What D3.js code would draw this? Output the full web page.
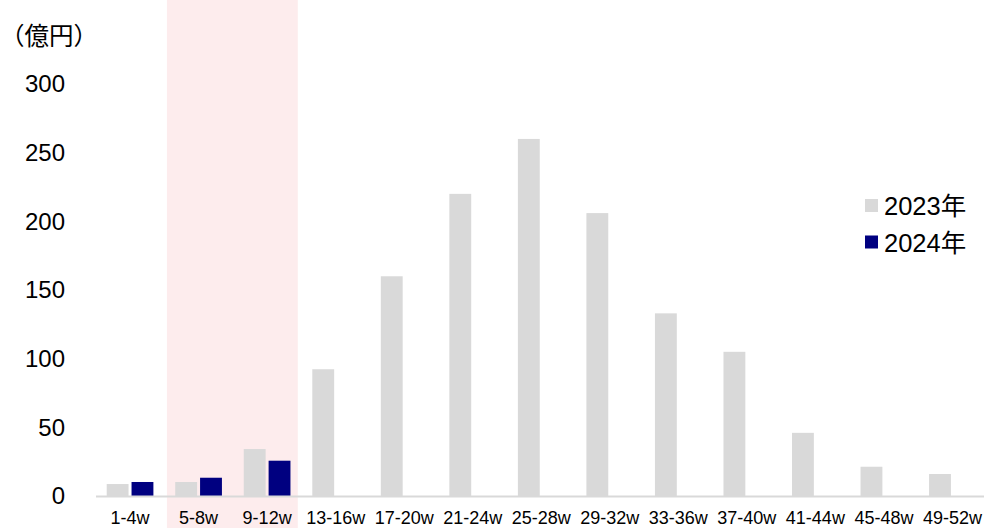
<!DOCTYPE html>
<html>
<head>
<meta charset="utf-8">
<script src="https://cdn.jsdelivr.net/npm/d3@7"></script>
<style>
  html, body { margin: 0; padding: 0; background: #fff; }
  svg { display: block; font-family: "Liberation Sans", Arial, "Noto Sans CJK JP", sans-serif; }
</style>
</head>
<body>
<svg id="chart" width="984" height="528"></svg>
<script>
const categories = ["1-4w","5-8w","9-12w","13-16w","17-20w","21-24w","25-28w","29-32w","33-36w","37-40w","41-44w","45-48w","49-52w"];
const seriesNames = ["2023年","2024年"];
const values2023 = [8.7, 10.2, 34.2, 92.3, 160, 220, 260, 206, 133, 105, 46, 21.3, 16];
const values2024 = [10.2, 13.3, 25.7, null, null, null, null, null, null, null, null, null, null];
const yTicks = [0, 50, 100, 150, 200, 250, 300];
const highlightCats = ["5-8w", "9-12w"];
const colors = ["#d9d9d9", "#000080"];

const svg = d3.select("#chart");
const W = 984, H = 528;

const x = d3.scaleBand().domain(categories).range([95.8, 986.7]).padding(0);
const inner = d3.scaleBand().domain(seriesNames).range([10.9, 57.6]).paddingInner(0.12).paddingOuter(0);
const y = d3.scaleLinear().domain([0, 300]).range([496, 84]);

// highlight band
svg.append("rect")
  .attr("x", x(highlightCats[0]) + 2.6)
  .attr("y", 0)
  .attr("width", x(highlightCats[1]) + x.step() - 3.6 - (x(highlightCats[0]) + 2.6))
  .attr("height", H)
  .attr("fill", "#fdeced");

// bars
const allSeries = [values2023, values2024];
allSeries.forEach((vals, si) => {
  svg.append("g").selectAll("rect")
    .data(categories.map((c, i) => ({c, v: vals[i]})).filter(d => d.v != null))
    .join("rect")
    .attr("x", d => x(d.c) + inner(seriesNames[si]))
    .attr("width", inner.bandwidth())
    .attr("y", d => y(d.v))
    .attr("height", d => y(0) - y(d.v))
    .attr("fill", colors[si]);
});

// baseline axis
svg.append("line")
  .attr("x1", 96).attr("x2", 984)
  .attr("y1", y(0) + 0.5).attr("y2", y(0) + 0.5)
  .attr("stroke", "#d9d9d9").attr("stroke-width", 2);

// y tick labels
svg.append("g").selectAll("text")
  .data(yTicks)
  .join("text")
  .attr("x", 65)
  .attr("y", d => y(d))
  .attr("dy", "0.35em")
  .attr("text-anchor", "end")
  .attr("font-size", 24)
  .attr("fill", "#000")
  .text(d => d);

// x labels
svg.append("g").selectAll("text")
  .data(categories)
  .join("text")
  .attr("x", d => x(d) + x.bandwidth() / 2)
  .attr("y", 524)
  .attr("text-anchor", "middle")
  .attr("font-size", 18)
  .attr("fill", "#000")
  .text(d => d);

// unit label
svg.append("text")
  .attr("x", 0)
  .attr("y", 45)
  .attr("font-size", 24.5)
  .attr("font-family", "'Noto Sans CJK JP', sans-serif")
  .attr("fill", "#000")
  .text("（億円）");

// legend
const legend = svg.append("g");
seriesNames.forEach((name, i) => {
  legend.append("rect")
    .attr("x", 865).attr("y", 199 + i * 36.5)
    .attr("width", 13).attr("height", 13)
    .attr("fill", colors[i]);
  legend.append("text")
    .attr("x", 884).attr("y", 215 + i * 37)
    .attr("font-size", 25.5)
    .attr("fill", "#000")
    .text(name);
});
</script>
</body>
</html>
